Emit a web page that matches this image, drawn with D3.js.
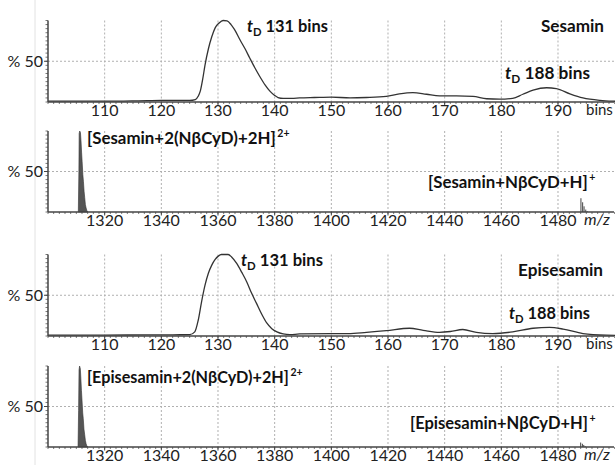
<!DOCTYPE html>
<html><head><meta charset="utf-8">
<script src="https://cdn.jsdelivr.net/npm/d3@7/dist/d3.min.js"></script>
<style>
body{margin:0;background:#fff}
svg{display:block}
text{font-family:Lato,"Open Sans",sans-serif;fill:#111}
</style>
</head><body>
<script>
// ---------- DATA ----------
const binTicks = [110,120,130,140,150,160,170,180,190];
const mzTicks = [1320,1340,1360,1380,1400,1420,1440,1460,1480];
const yTickLabel = "% 50";

// Sesamin arrival-time distribution (bins, % intensity)
const sesaminBins = [100,110,116,120,125,126,126.5,126.9,127.3,127.7,128.3,128.9,129.5,130.2,130.9,131.6,132.3,132.9,133.9,134.8,135.6,136.5,137.4,138.3,139.2,140,140.6,141.5,143,144.4,147,150,153.3,156.2,159.7,162,164.4,166.8,169.1,172.1,175,177.4,179.7,182,183.8,185.6,188,189.7,192.1,194.4,197.4,199.7,200.5];
const sesaminInt  = [1,1,1.5,2,2,3,7,14,28,45,65,80,91,97,100,99.5,95,89,76,65,54,42,31,21,13,8,5.5,4.5,4.5,5,5.5,6,5,5.5,7,10,11.5,9.5,7.5,7.5,7,4,3.5,4.5,9.5,14.5,17.5,16.5,10,5,2,1,0.8];

// Episesamin arrival-time distribution
const episesaminBins = [100,110,118,122,125,125.9,126.5,127.1,127.7,128.3,128.9,129.5,130.05,130.6,131.8,132.4,133.3,134.2,135.1,135.9,136.8,137.7,138.6,139.5,140.4,141.5,142.7,144.4,150,153,156.2,159.7,163.8,166.2,169.1,171,173.2,175.6,178.5,182,185.6,188.5,190.9,194.4,198.5,200.5];
const episesaminInt  = [1,1,1.5,1.5,1.6,5,19,42,62,77,87,94,98,100,100,97,89,78,66,53,40,27,16,9,5,2.5,1.6,2.5,3,3,4.5,6.5,9.5,7,4.5,5.5,8,4.5,3,5,9.5,10.5,8.5,3,1,0.8];

// Mass spectra (profile of the 2+ complex; sticks of the 1+ complex)
const sesaminMsMz  = [1310.7,1310.9,1311.0,1311.2,1311.45,1311.65,1311.85,1312.05,1312.3,1312.5,1312.75,1312.95,1313.2,1313.45,1313.7,1314.0];
const sesaminMsInt = [0,50,97,100,98,88,74,62,46,38,25,18,9,5,2,0];
const sesaminMinorMz  = [1488.1,1488.7,1489.2,1489.8,1490.3];
const sesaminMinorInt = [17,12,7,3,1];

const episesaminMsMz  = [1310.6,1310.8,1310.95,1311.15,1311.4,1311.6,1311.8,1312.0,1312.25,1312.45,1312.7,1312.95,1313.2,1313.45,1313.7,1314.0];
const episesaminMsInt = [0,45,95,100,97,85,70,58,42,35,22,15,8,4,1.5,0];
const episesaminMinorMz  = [1488.0,1488.6,1489.1,1489.6];
const episesaminMinorInt = [5.5,4,2.5,1];

// ---------- LAYOUT ----------
const W = 615, H = 465;
const X0 = 48, X1 = 615;
const svg = d3.select("body").append("svg").attr("width", W).attr("height", H);

svg.append("line").attr("x1",35).attr("x2",35).attr("y1",0).attr("y2",H)
  .attr("stroke","#e2e2e2").attr("stroke-width",1);

const panels = [
  {top:20.5, base:102, kind:"mob", xs:sesaminBins, ys:sesaminInt},
  {top:131, base:212, kind:"ms", xs:sesaminMsMz, ys:sesaminMsInt, mx:sesaminMinorMz, my:sesaminMinorInt},
  {top:254.5, base:336, kind:"mob", xs:episesaminBins, ys:episesaminInt},
  {top:366, base:447, kind:"ms", xs:episesaminMsMz, ys:episesaminMsInt, mx:episesaminMinorMz, my:episesaminMinorInt}
];

panels.forEach(p => {
  const g = svg.append("g");
  const isMob = p.kind === "mob";
  const x = isMob ? d3.scaleLinear([100, 200.06], [X0, X1])
                  : d3.scaleLinear([1300, 1500.12], [X0, X1]);
  const y = d3.scaleLinear([0, 100], [p.base, p.top]);
  const ticks = isMob ? binTicks : mzTicks;

  // grid
  g.selectAll(".vg").data(ticks).join("line")
    .attr("x1", d => x(d)).attr("x2", d => x(d))
    .attr("y1", y(100)).attr("y2", y(0))
    .attr("stroke", "#b0b0b0").attr("stroke-width", 1).attr("stroke-dasharray", "2,2");
  g.append("line").attr("x1", X0).attr("x2", X1).attr("y1", y(50)).attr("y2", y(50))
    .attr("stroke", "#b0b0b0").attr("stroke-width", 1).attr("stroke-dasharray", "2,2");

  // data
  if (isMob) {
    g.append("path").datum(p.xs.map((v,i)=>[v,p.ys[i]]))
      .attr("fill","none").attr("stroke","#333").attr("stroke-width",1.3)
      .attr("d", d3.line().x(d=>x(d[0])).y(d=>y(d[1])).curve(d3.curveMonotoneX));
  } else {
    g.append("path").datum(p.xs.map((v,i)=>[v,p.ys[i]]))
      .attr("fill","#555").attr("stroke","#333").attr("stroke-width",0.6)
      .attr("d", d3.area().x(d=>x(d[0])).y0(y(0)).y1(d=>y(d[1])));
    g.selectAll(".stick").data(p.mx.map((v,i)=>[v,p.my[i]])).join("line")
      .attr("x1", d=>x(d[0])).attr("x2", d=>x(d[0]))
      .attr("y1", y(0)).attr("y2", d=>y(d[1]))
      .attr("stroke","#444").attr("stroke-width",1);
  }

  // x axis: minor ticks
  const minorVals = isMob ? d3.range(100, 201, 1) : d3.range(1300, 1501, 2);
  g.selectAll(".mt").data(minorVals).join("line")
    .attr("x1", d=>x(d)).attr("x2", d=>x(d))
    .attr("y1", p.base).attr("y2", p.base + 2)
    .attr("stroke","#555").attr("stroke-width",0.8);
  g.selectAll(".Mt").data(ticks).join("line")
    .attr("x1", d=>x(d)).attr("x2", d=>x(d))
    .attr("y1", p.base).attr("y2", p.base + 3.5)
    .attr("stroke","#444").attr("stroke-width",1);
  g.append("line").attr("x1", X0).attr("x2", X1 - 1).attr("y1", p.base).attr("y2", p.base)
    .attr("stroke","#444").attr("stroke-width",1.5);
  g.selectAll(".tl").data(ticks).join("text")
    .attr("x", d=>x(d)).attr("y", p.base + 14)
    .attr("text-anchor","middle").attr("font-size",16).style("fill","#222")
    .text(d=>d);

  // y axis
  const yMinor = d3.range(0, 101, 5);
  g.selectAll(".ym").data(yMinor).join("line")
    .attr("x1", X0 - 2.5).attr("x2", X0).attr("y1", d=>y(d)).attr("y2", d=>y(d))
    .attr("stroke","#555").attr("stroke-width",0.8);
  g.append("line").attr("x1", X0 - 4).attr("x2", X0).attr("y1", y(50)).attr("y2", y(50))
    .attr("stroke","#444").attr("stroke-width",1);
  g.append("line").attr("x1", X0).attr("x2", X0).attr("y1", y(100)).attr("y2", y(0))
    .attr("stroke","#444").attr("stroke-width",1.5);
  g.append("text").attr("x", X0 - 5).attr("y", y(50) + 5.5)
    .attr("text-anchor","end").attr("font-size",16).style("fill","#222").text(yTickLabel);

  // axis unit
  if (isMob) {
    g.append("text").attr("x", 586).attr("y", p.base + 12.5).attr("font-size",15).style("fill","#222").text("bins");
  } else {
    g.append("text").attr("x", 584).attr("y", p.base + 13).attr("font-size",16)
      .attr("font-style","italic").style("fill","#222").text("m/z");
  }
});

// ---------- LABELS ----------
const LF = 17.5;
function tdLabel(xp, yp, num, len) {
  const t = svg.append("text").attr("x", xp).attr("y", yp).attr("font-size",LF).attr("font-weight","bold")
    .attr("textLength", len).attr("lengthAdjust","spacingAndGlyphs");
  t.append("tspan").attr("font-style","italic").text("t");
  t.append("tspan").attr("font-size",12).attr("dy",4).text("D");
  t.append("tspan").attr("dy",-4).text(" " + num + " bins");
}
function plain(xp, yp, s, len) {
  svg.append("text").attr("x", xp).attr("y", yp).attr("font-size",LF).attr("font-weight","bold")
    .attr("textLength", len).attr("lengthAdjust","spacingAndGlyphs").text(s);
}
function ion(xp, yp, s, sup, len) {
  const t = svg.append("text").attr("x", xp).attr("y", yp).attr("font-size",LF).attr("font-weight","bold").text(s);
  const w = t.node().getComputedTextLength();
  const fs = Math.min(LF, LF * len / w);
  t.attr("font-size", fs);
  const w2 = t.node().getComputedTextLength();
  svg.append("text").attr("x", xp + w2 + 1.5).attr("y", yp - 7).attr("font-size",10.5).attr("font-weight","bold")
    .text(sup);
}

tdLabel(247, 31.5, 131, 81);
plain(541, 31.5, "Sesamin", 63);
tdLabel(505, 79, 188, 85);
ion(87, 143.5, "[Sesamin+2(NβCyD)+2H]", "2+", 189);
ion(428, 187.5, "[Sesamin+NβCyD+H]", "+", 160);

tdLabel(241, 265.5, 131, 82);
plain(518, 275.5, "Episesamin", 85);
tdLabel(509, 318.5, 188, 81);
ion(87, 382.5, "[Episesamin+2(NβCyD)+2H]", "2+", 202);
ion(410, 428.5, "[Episesamin+NβCyD+H]", "+", 178);
</script>
</body></html>
